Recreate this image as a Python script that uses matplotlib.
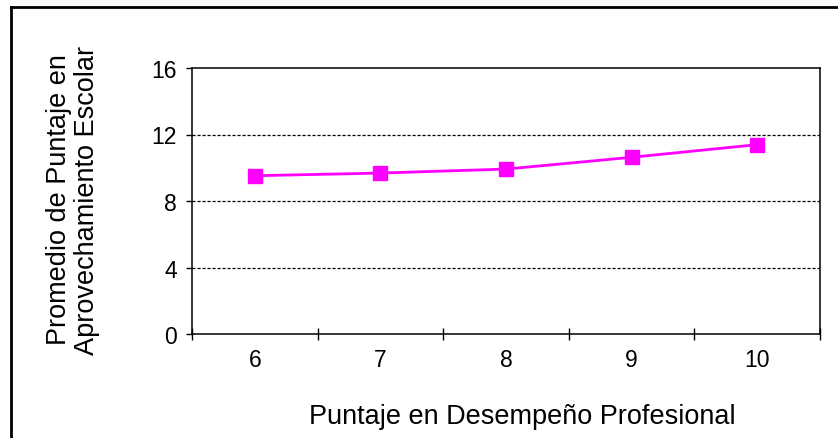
import matplotlib
matplotlib.use("Agg")
import matplotlib.pyplot as plt
from matplotlib.lines import Line2D

categories = ["6", "7", "8", "9", "10"]
values = [9.52, 9.68, 9.92, 10.63, 11.39]
yticks = [0, 4, 8, 12, 16]

plt.rcParams['font.family'] = ['Liberation Sans', 'DejaVu Sans']

fig = plt.figure(figsize=(8.38, 4.39), dpi=100)
ax = fig.add_axes([192/838, 1-335/439, 628/838, 266/439])

x = list(range(len(categories)))
ax.plot(x, values, color='#FF00FF', lw=2, marker='s', markersize=10,
        markerfacecolor='#FF00FF', markeredgecolor='#FF00FF', zorder=3)

ax.set_xlim(-0.5, len(categories) - 0.5)
ax.set_ylim(0, 16)
ax.set_yticks(yticks)
ax.set_yticklabels([str(t) for t in yticks], fontsize=16.5)
ax.set_xticks([i - 0.5 for i in range(len(categories) + 1)])
ax.set_xticklabels([])
ax.set_xticks(x, minor=True)
ax.set_xticklabels(categories, minor=True, fontsize=16.5)
ax.tick_params(axis='x', which='major', direction='inout', length=9, width=1, color='black')
ax.tick_params(axis='x', which='minor', length=0, pad=10)
ax.tick_params(axis='y', direction='out', length=4, width=1, pad=7)

for t in [4, 8, 12]:
    ax.axhline(t, color='black', lw=0.9, ls=(0, (2.5, 1.5)), zorder=1)

for s in ax.spines.values():
    s.set_color('black')
    s.set_linewidth(1.1)

fig.text(73/838, 1-200/439, "Promedio de Puntaje en\nAprovechamiento Escolar",
         rotation=90, ha='center', va='center', fontsize=19.5, linespacing=1.12)
fig.text(522/838, 1-417/439, "Puntaje en Desempeño Profesional",
         ha='center', va='center', fontsize=19.5)

# outer frame
fig.add_artist(Line2D([11/838, 11/838], [0, 1-8/439], transform=fig.transFigure, color='black', lw=2))
fig.add_artist(Line2D([11/838, 1], [1-8/439, 1-8/439], transform=fig.transFigure, color='black', lw=2))

fig.savefig("out.png", dpi=100)
